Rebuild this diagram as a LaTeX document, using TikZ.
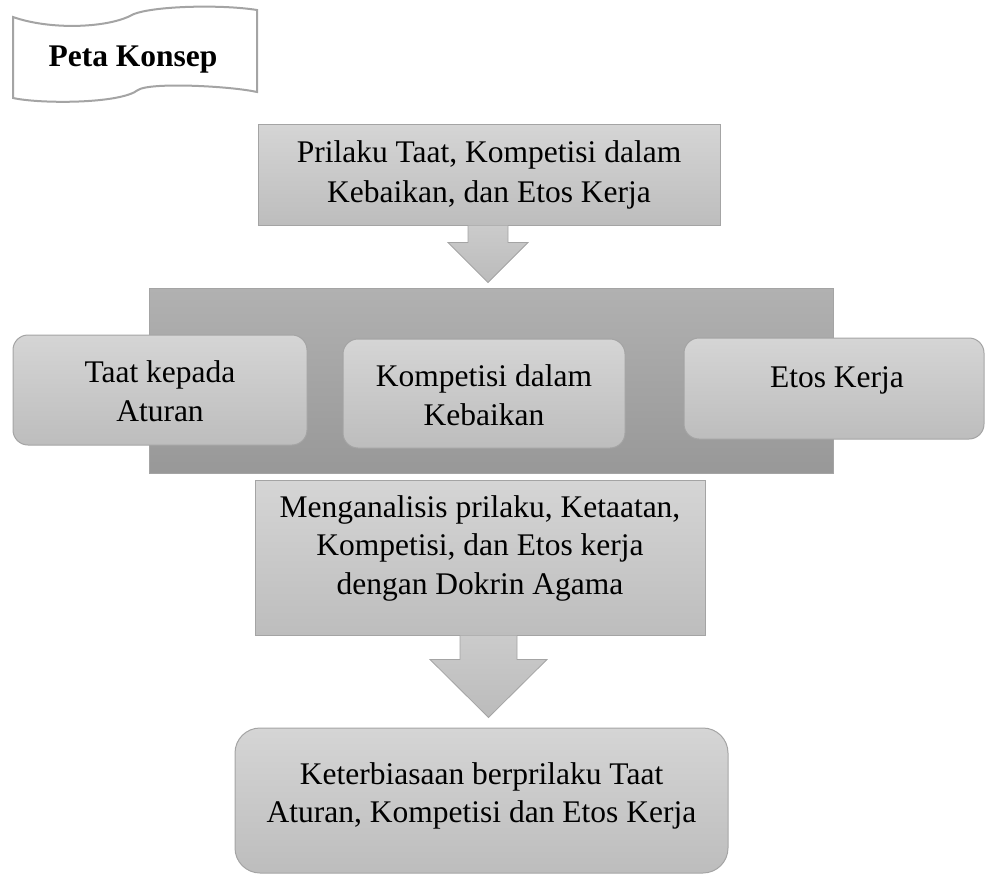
\documentclass[tikz,border=0pt]{standalone}
\usepackage{fontspec}
\setmainfont{Liberation Serif}
\usetikzlibrary{calc}
\definecolor{boxtop}{HTML}{D5D5D5}
\definecolor{boxbot}{HTML}{BDBDBD}
\definecolor{grptop}{HTML}{B1B1B1}
\definecolor{grpbot}{HTML}{989898}
\definecolor{edge}{HTML}{A4A4A4}
\definecolor{arrtop}{HTML}{CBCBCB}
\definecolor{arrbot}{HTML}{BBBBBB}
\tikzset{
  boxst/.style={draw=edge, line width=1pt, top color=boxtop, bottom color=boxbot, inner sep=0pt},
  roundst/.style={boxst, rounded corners=15pt},
  grpst/.style={draw=edge, line width=1pt, top color=grptop, bottom color=grpbot, inner sep=0pt},
  arrowst/.style={draw=edge, line width=0.8pt, top color=arrtop, bottom color=arrbot},
  txt/.style={align=center, font=\fontsize{31.5}{38.5}\selectfont, inner sep=0pt, text=black},
  bannerst/.style={draw=edge, line width=2pt, fill=white}
}
\begin{document}
\begin{tikzpicture}[x=1pt, y=-1pt]
\useasboundingbox (0,0) rectangle (985,875);
% banner
\path[bannerst] (13,17) .. controls (50,30) and (105,28) .. (130,16)
  .. controls (145,6) and (220,4) .. (257,10) -- (257,92)
  .. controls (230,86) and (150,82) .. (138,90)
  .. controls (120,104) and (40,104) .. (13,98) -- cycle;
\node[txt, font=\fontsize{31.5}{38.5}\selectfont\bfseries] (title) at (133,60) {Peta Konsep};
% top box
\node[boxst, minimum width=462pt, minimum height=101pt] (b1) at (489,174.5) {};
\node[txt, font=\fontsize{31.5}{40}\selectfont] (b1t) at (489,175) {Prilaku Taat, Kompetisi dalam\\Kebaikan, dan Etos Kerja};
% arrow 1
\coordinate (a1) at ($(b1.south)+(-1,0)$);
\path[arrowst] (a1) ++(-20,0) -- ++(0,17) -- ++(-20,0) -- ++(40,40) -- ++(40,-40) -- ++(-20,0) -- ++(0,-17);
% group box
\node[grpst, minimum width=684pt, minimum height=185pt] (grp) at (491,380.5) {};
\node[roundst, minimum width=294pt, minimum height=110pt] (r1) at (160,390) {};
\node[txt] (r1t) at (160,391) {Taat kepada\\Aturan};
\node[roundst, minimum width=282pt, minimum height=109pt] (r2) at (484,393.5) {};
\node[txt] (r2t) at (484,395) {Kompetisi dalam\\Kebaikan};
\node[roundst, minimum width=300pt, minimum height=101pt] (r3) at (834,388.5) {};
\node[txt] (r3t) at (837,380) {Etos Kerja};
% analysis box
\node[boxst, minimum width=450pt, minimum height=155pt] (b4) at (480,557.5) {};
\node[txt] (b4t) at (480,548) {Menganalisis prilaku, Ketaatan,\\Kompetisi, dan Etos kerja\\dengan Dokrin Agama};
% arrow 2
\coordinate (a2) at ($(b4.south)+(8.5,0)$);
\path[arrowst] (a2) ++(-28.5,0) -- ++(0,24) -- ++(-30,0) -- ++(58.5,58) -- ++(58.5,-58) -- ++(-30,0) -- ++(0,-24);
% final box
\node[boxst, rounded corners=25pt, minimum width=493pt, minimum height=145pt] (b5) at (481.5,800.5) {};
\node[txt] (b5t) at (481.5,796) {Keterbiasaan berprilaku Taat\\Aturan, Kompetisi dan Etos Kerja};
\end{tikzpicture}
\end{document}
